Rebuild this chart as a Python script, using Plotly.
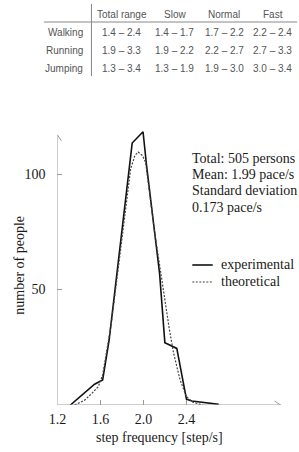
import plotly.graph_objects as go

# ---- data ----
table_cols = ["Total range", "Slow", "Normal", "Fast"]
table_rows = ["Walking", "Running", "Jumping"]
table_vals = [
    ["1.4 – 2.4", "1.4 – 1.7", "1.7 – 2.2", "2.2 – 2.4"],
    ["1.9 – 3.3", "1.9 – 2.2", "2.2 – 2.7", "2.7 – 3.3"],
    ["1.3 – 3.4", "1.3 – 1.9", "1.9 – 3.0", "3.0 – 3.4"],
]

exp_x = [1.32, 1.545, 1.62, 1.68, 1.895, 1.996, 2.028, 2.15, 2.199, 2.31, 2.40, 2.45, 2.70]
exp_y = [0, 9, 10.8, 28, 113.4, 118.3, 104, 57, 27, 24.5, 2.5, 1.7, 0.3]

theo_x = [1.36, 1.45, 1.52, 1.58, 1.62, 1.7, 1.8, 1.88, 1.92, 1.95, 1.99, 2.02, 2.1,
          2.2, 2.24, 2.28, 2.34, 2.4, 2.46, 2.55]
theo_y = [0, 2, 5, 8, 13, 35, 72, 102, 108, 109.5, 108, 105, 76,
          45, 33, 22.5, 11, 3.6, 1.2, 0]

x_ticks = [1.2, 1.6, 2.0, 2.4]
y_ticks = [50, 100]

stats_lines = ["Total: 505 persons", "Mean: 1.99 pace/s", "Standard deviation", "0.173 pace/s"]
legend_names = ["experimental", "theoretical"]

# ---- geometry ----
W, H = 299, 452
def px(x):
    return x / W
def py(y):
    return 1 - y / H

SERIF = "Liberation Serif"
SANS = "Liberation Sans"
AX = "#9a9a9a"
TXT = "#1a1a1a"
FS = 14

EXP_LINE = dict(color="#111111", width=1.6)
THEO_LINE = dict(color="#444444", width=1.2, dash="2px,1.5px")

fig = go.Figure()
fig.add_trace(go.Scatter(x=exp_x, y=exp_y, mode="lines", name=legend_names[0],
                         line=EXP_LINE, showlegend=False))
fig.add_trace(go.Scatter(x=theo_x, y=theo_y, mode="lines", name=legend_names[1],
                         line=THEO_LINE, showlegend=False))

x0, y_top, x_end = 1.2, 116.9, 3.276

shapes = [
    dict(type="line", xref="x", yref="y", x0=x0, y0=0, x1=x0, y1=y_top,
         line=dict(color=AX, width=1)),
    dict(type="line", xref="x", yref="y", x0=x0, y0=0, x1=x_end, y1=0,
         line=dict(color=AX, width=1)),
]
# arrow heads
for dx, dy in [(-4, -6), (4, -6)]:
    shapes.append(dict(type="line", xref="x", yref="y", xsizemode="pixel", ysizemode="pixel",
                       xanchor=x0, yanchor=y_top, x0=dx, y0=dy, x1=0, y1=0,
                       line=dict(color=AX, width=1)))
for dx, dy in [(-6, -4), (-6, 4)]:
    shapes.append(dict(type="line", xref="x", yref="y", xsizemode="pixel", ysizemode="pixel",
                       xanchor=x_end, yanchor=0, x0=dx, y0=dy, x1=0, y1=0,
                       line=dict(color=AX, width=1)))

# table lines
shapes.append(dict(type="line", xref="paper", yref="paper", x0=px(85), x1=px(85),
                   y0=py(4), y1=py(76), line=dict(color="#888888", width=1)))
shapes.append(dict(type="line", xref="paper", yref="paper", x0=px(36), x1=px(297),
                   y0=py(22), y1=py(22), line=dict(color="#888888", width=1)))

# legend samples (manual legend)
leg_y = [265, 282]
for yy, ln in zip(leg_y, [EXP_LINE, THEO_LINE]):
    shapes.append(dict(type="line", xref="paper", yref="paper", x0=px(189), x1=px(210),
                       y0=py(yy), y1=py(yy), line=ln))

annotations = []
col_cx = [116, 171, 222, 272]
row_cy = [32, 50, 68]
tfont = dict(family=SANS, size=10, color="#555555")
for c, name in enumerate(table_cols):
    annotations.append(dict(text=name, xref="paper", yref="paper", x=px(col_cx[c]), y=py(14),
                            xanchor="center", yanchor="middle", showarrow=False, font=tfont))
for r, name in enumerate(table_rows):
    annotations.append(dict(text=name, xref="paper", yref="paper", x=px(78), y=py(row_cy[r]),
                            xanchor="right", yanchor="middle", showarrow=False, font=tfont))
    for c, v in enumerate(table_vals[r]):
        annotations.append(dict(text=v, xref="paper", yref="paper", x=px(col_cx[c]),
                                y=py(row_cy[r]), xanchor="center", yanchor="middle",
                                showarrow=False, font=tfont))

stat_y = [158, 174.5, 191, 207.5]
for t, yy in zip(stats_lines, stat_y):
    annotations.append(dict(text=t, xref="paper", yref="paper", x=px(187), y=py(yy),
                            xanchor="left", yanchor="middle", showarrow=False,
                            font=dict(family=SERIF, size=FS, color=TXT)))

for t, yy in zip(legend_names, leg_y):
    annotations.append(dict(text=t, xref="paper", yref="paper", x=px(217), y=py(yy - 1),
                            xanchor="left", yanchor="middle", showarrow=False,
                            font=dict(family=SERIF, size=FS, color=TXT)))

annotations.append(dict(text="step frequency [step/s]", xref="paper", yref="paper",
                        x=px(155), y=py(437), xanchor="center", yanchor="middle",
                        showarrow=False, font=dict(family=SERIF, size=FS, color=TXT)))
annotations.append(dict(text="number of people", xref="paper", yref="paper",
                        x=px(10), y=py(265), xanchor="center", yanchor="middle", textangle=-90,
                        showarrow=False, font=dict(family=SERIF, size=FS, color=TXT)))

fig.update_layout(
    width=W, height=H, margin=dict(l=0, r=0, t=0, b=0),
    paper_bgcolor="white", plot_bgcolor="white",
    showlegend=False,
    xaxis=dict(domain=[px(50), px(285)], range=[1.2, 1.2 + 235 / 110.8],
               tickvals=x_ticks, tickformat=".1f", ticks="inside", ticklen=5,
               tickcolor=AX, showgrid=False, zeroline=False, showline=False,
               ticklabelstandoff=4,
               tickfont=dict(family=SERIF, size=FS, color=TXT)),
    yaxis=dict(domain=[py(405), py(125)], range=[0, 280 / 2.31],
               tickvals=y_ticks, ticks="inside", ticklen=5, tickcolor=AX,
               showgrid=False, zeroline=False, showline=False,
               ticklabelstandoff=11,
               tickfont=dict(family=SERIF, size=FS, color=TXT)),
    shapes=shapes, annotations=annotations,
)

fig.write_html("out.html")
